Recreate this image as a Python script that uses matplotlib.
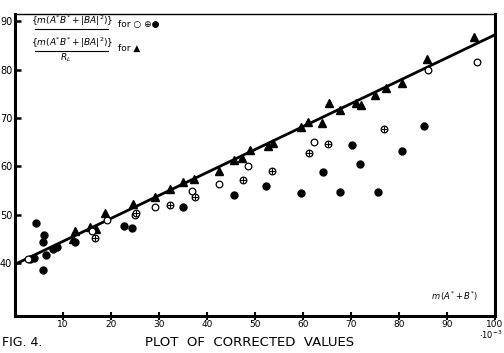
import matplotlib
matplotlib.use("Agg")
import matplotlib.pyplot as plt

# ---- data ----
tri_x = [12.0, 12.5, 15.6, 16.8, 18.7, 24.6, 29.2, 32.2, 35.1, 37.3, 42.4, 45.7, 47.2, 48.9,
         52.7, 53.8, 59.6, 61.1, 63.9, 65.4, 67.7, 71.0, 72.0, 75.0, 77.2, 80.6, 85.8, 95.7]
tri_y = [45.0, 46.5, 47.5, 47.0, 50.4, 52.2, 53.6, 55.3, 56.8, 57.4, 59.1, 61.2, 61.8, 63.3,
         64.2, 64.9, 68.1, 69.2, 69.0, 73.0, 71.7, 73.0, 72.7, 74.7, 76.1, 77.2, 82.2, 86.8]

open_x = [2.8, 16.1, 19.1, 25.0, 29.2, 36.8, 42.4, 48.6, 62.3, 86.1, 96.3]
open_y = [40.8, 46.6, 48.9, 49.8, 51.5, 54.9, 56.3, 60.0, 65.0, 80.0, 81.6]

cross_x = [16.7, 25.2, 32.2, 37.5, 47.4, 53.5, 61.3, 65.3, 76.9]
cross_y = [45.1, 50.4, 52.0, 53.7, 57.1, 59.0, 62.7, 64.6, 67.7]

fill_x = [3.1, 4.0, 4.4, 5.8, 6.1, 6.4, 5.8, 8.0, 8.8, 12.5, 22.8, 24.3, 35.1, 45.6,
          52.3, 59.5, 64.2, 67.8, 70.3, 71.9, 75.6, 80.7, 85.2]
fill_y = [40.7, 41.0, 48.3, 44.4, 45.7, 41.6, 38.6, 42.8, 43.2, 44.4, 47.6, 47.2, 51.5, 54.0,
          55.9, 54.5, 58.7, 54.6, 64.4, 60.4, 54.7, 63.1, 68.3]

fit_x = [0, 100]
fit_y = [39.7, 87.2]

xticks = [10, 20, 30, 40, 50, 60, 70, 80, 90, 100]
yticks = [40, 50, 60, 70, 80, 90]

# ---- figure ----
fig = plt.figure(figsize=(5.04, 3.53), dpi=100)
ax = fig.add_axes([15/504, 1-316/353, (495-15)/504, (316-14)/353])
ax.set_xlim(0, 100)
ax.set_ylim(29, 91.5)

ax.plot(fit_x, fit_y, color="black", lw=2.0, zorder=2)
ax.plot(tri_x, tri_y, ls="none", marker="^", ms=5.8, color="black", zorder=3)
ax.plot(fill_x, fill_y, ls="none", marker="o", ms=5.0, color="black", zorder=3)
ax.plot(open_x, open_y, ls="none", marker="o", ms=4.8, mfc="white", mec="black", mew=0.9, zorder=3)
ax.plot(cross_x, cross_y, ls="none", marker="o", ms=4.8, mfc="white", mec="black", mew=0.9, zorder=3)
ax.plot(cross_x, cross_y, ls="none", marker="+", ms=4.8, color="black", mew=0.8, zorder=4)

for side in ["left", "bottom", "right"]:
    ax.spines[side].set_linewidth(2.2)
ax.spines["top"].set_linewidth(1.0)

ax.set_xticks(xticks)
ax.set_xticklabels([str(t) for t in xticks], fontsize=6.5)
ax.set_yticks(yticks)
ax.set_yticklabels([str(t) for t in yticks], fontsize=7)
ax.tick_params(axis="x", direction="inout", length=6, width=1.5, pad=0)
ax.tick_params(axis="y", direction="in", length=4, width=1.8, pad=2)

# axis annotations
fig.text(503/504, 1-335/353, r"$\cdot10^{-3}$", ha="right", va="center", fontsize=6)
ax.text(91.5, 33.0, r"$m\,(A^{*}+B^{*})$", ha="center", va="center", fontsize=6)

# legend-like fraction text
fig.text(72/504, 1-21/353, r"$\{m(A^{*}B^{*}+|BA|^{2})\}$", ha="center", va="center", fontsize=6.5)
fig.add_artist(plt.Line2D([35/504, 108/504], [1-29/353, 1-29/353], color="black", lw=0.8))
fig.text(118/504, 1-24/353, "for ○ ⊕●", ha="left", va="center", fontsize=6.5)
fig.text(72/504, 1-43/353, r"$\{m(A^{*}B^{*}+|BA|^{2})\}$", ha="center", va="center", fontsize=6.5)
fig.add_artist(plt.Line2D([35/504, 108/504], [1-51/353, 1-51/353], color="black", lw=0.8))
fig.text(66/504, 1-58/353, r"$R_{L}$", ha="center", va="center", fontsize=6.5)
fig.text(118/504, 1-48/353, "for ▲", ha="left", va="center", fontsize=6.5)

fig.text(2/504, 1-343/353, "FIG. 4.", ha="left", va="center", fontsize=9)
fig.text(250/504, 1-343/353, "PLOT  OF  CORRECTED  VALUES", ha="center", va="center", fontsize=9.5)

fig.savefig("out.png", dpi=100)
